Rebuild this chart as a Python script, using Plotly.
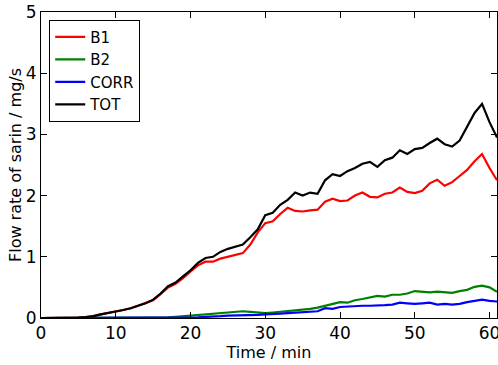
import plotly.graph_objects as go

time_min = list(range(0, 62))

tot = [0, 0, 0, 0, 0, 0.005, 0.015, 0.03, 0.06, 0.08, 0.1, 0.13, 0.16, 0.2, 0.24, 0.3,
       0.4, 0.52, 0.58, 0.68, 0.78, 0.9, 0.98, 1.0, 1.08, 1.13, 1.17, 1.2, 1.32, 1.45,
       1.68, 1.72, 1.85, 1.93, 2.05, 2.0, 2.05, 2.03, 2.25, 2.35, 2.32, 2.4, 2.45, 2.52, 2.55,
       2.47, 2.58, 2.62, 2.74, 2.68, 2.76, 2.78, 2.86, 2.93, 2.84, 2.8, 2.9, 3.12, 3.35, 3.5,
       3.2, 2.95]
b1 = [0, 0, 0, 0, 0, 0.005, 0.015, 0.03, 0.06, 0.08, 0.1, 0.13, 0.16, 0.2, 0.24, 0.29,
      0.39, 0.5, 0.56, 0.65, 0.76, 0.86, 0.92, 0.92, 0.97, 1.0, 1.04, 1.06, 1.2, 1.4,
      1.55, 1.58, 1.7, 1.8, 1.75, 1.74, 1.76, 1.77, 1.9, 1.95, 1.91, 1.92, 2.0, 2.05, 1.98,
      1.97, 2.03, 2.05, 2.13, 2.06, 2.04, 2.08, 2.2, 2.26, 2.16, 2.22, 2.32, 2.42, 2.56, 2.68,
      2.45, 2.25]
b2 = [0, 0, 0, 0, 0, 0, 0, 0, 0, 0, 0, 0, 0, 0, 0, 0.002,
      0.005, 0.01, 0.02, 0.03, 0.04, 0.05, 0.06, 0.07, 0.08, 0.09, 0.1, 0.11, 0.1, 0.09,
      0.08, 0.09, 0.1, 0.12, 0.13, 0.14, 0.15, 0.17, 0.2, 0.24, 0.26, 0.25, 0.29, 0.31, 0.33,
      0.36, 0.35, 0.38, 0.38, 0.4, 0.44, 0.43, 0.42, 0.43, 0.42, 0.41, 0.44, 0.46, 0.51, 0.53,
      0.5, 0.43]
corr = [0, 0, 0, 0, 0, 0, 0, 0, 0, 0, 0, 0, 0, 0, 0, 0,
        0, 0, 0, 0, 0.005, 0.01, 0.02, 0.02, 0.03, 0.04, 0.04, 0.05, 0.05, 0.05,
        0.06, 0.06, 0.07, 0.08, 0.09, 0.1, 0.1, 0.11, 0.16, 0.15, 0.18, 0.19, 0.19, 0.2, 0.2,
        0.2, 0.21, 0.22, 0.25, 0.24, 0.23, 0.24, 0.25, 0.22, 0.23, 0.22, 0.23, 0.26, 0.28, 0.3,
        0.28, 0.27]

series = [("B1", b1, "#ff0000"), ("B2", b2, "#008000"), ("CORR", corr, "#0000ff"), ("TOT", tot, "#000000")]

fig = go.Figure()
for name, vals, col in series:
    fig.add_trace(go.Scatter(x=time_min, y=vals, mode="lines", name=name,
                             line=dict(color=col, width=2.2)))

font = "DejaVu Sans, Bitstream Vera Sans, sans-serif"
axis_common = dict(showline=True, linecolor="black", linewidth=1, mirror="ticks",
                   ticks="inside", ticklen=6, tickcolor="black", showgrid=False,
                   zeroline=False, tickfont=dict(size=17, color="black"))
fig.update_layout(
    width=498, height=365,
    margin=dict(l=41, r=1, t=12, b=47, autoexpand=False),
    paper_bgcolor="white", plot_bgcolor="white",
    font=dict(family=font, color="black"),
    xaxis=dict(range=[0, 61], tickvals=[0, 10, 20, 30, 40, 50, 60], ticklabeloverflow="allow",
               title=dict(text="Time / min", font=dict(size=16), standoff=2), **axis_common),
    yaxis=dict(range=[0, 5], tickvals=[0, 1, 2, 3, 4, 5],
               title=dict(text="Flow rate of sarin / mg/s", font=dict(size=16), standoff=0), **axis_common),
    legend=dict(x=0.018, y=0.975, xanchor="left", yanchor="top",
                bordercolor="black", borderwidth=1, bgcolor="white",
                font=dict(size=15), itemwidth=30),
    showlegend=True,
)
fig.write_html("out.html", config={"displayModeBar": False},
               post_script="document.body.style.margin='0';document.body.style.overflow='hidden';")
